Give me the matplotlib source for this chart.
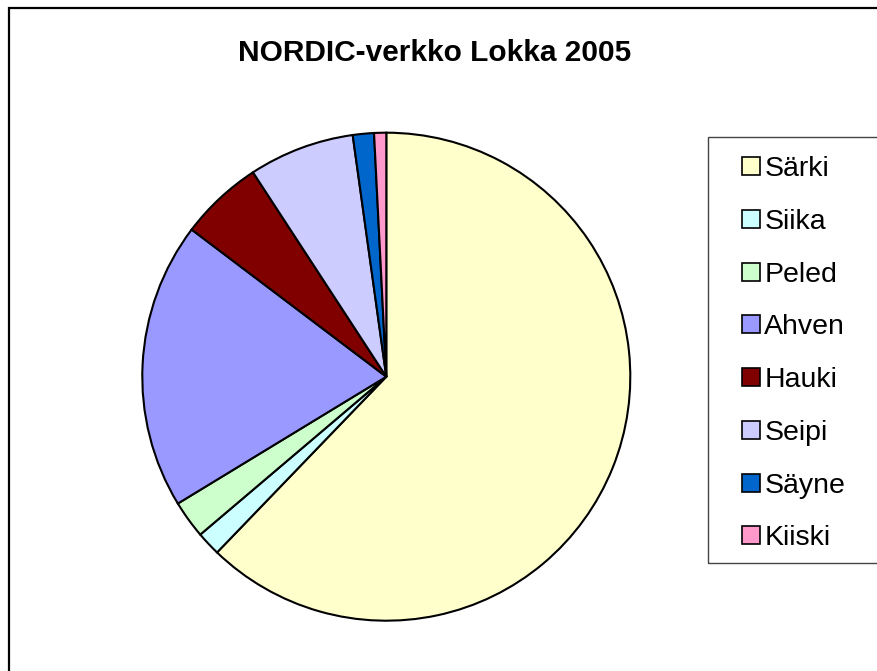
import matplotlib.pyplot as plt
from matplotlib.patches import Rectangle
from matplotlib.lines import Line2D

plt.rcParams['font.family'] = ['Liberation Sans', 'DejaVu Sans']

species = ['Särki', 'Siika', 'Peled', 'Ahven', 'Hauki', 'Seipi', 'Säyne', 'Kiiski']
share = [62.2, 1.6, 2.5, 19.0, 5.5, 7.0, 1.4, 0.8]
colors = ['#FFFFCC', '#CCFFFF', '#CCFFCC', '#9999FF', '#800000', '#CCCCFF', '#0066CC', '#FF99CC']

W, H = 877, 671
fig = plt.figure(figsize=(W / 100, H / 100), dpi=100)
ax = fig.add_axes([0, 0, 1, 1])

ax.pie(share, colors=colors, startangle=90, counterclock=False,
       center=(386.3, H - 376.7), radius=244, frame=True,
       wedgeprops=dict(edgecolor='black', linewidth=1.5))
ax.set_xlim(0, W)
ax.set_ylim(0, H)
ax.set_aspect('equal')
ax.axis('off')

# outer chart border (runs off the right/bottom edges)
ax.add_patch(Rectangle((9, -20), W + 40, H - 7.5 + 20, fill=False,
                       edgecolor='black', linewidth=1.6))

ax.text(434.5, H - 53, 'NORDIC-verkko Lokka 2005', ha='center', va='center',
        fontsize=21.5, fontweight='bold')

# legend box
ax.add_patch(Rectangle((708, H - 563), 200, 563 - 137, fill=False,
                       edgecolor='#444444', linewidth=1.0))
handles = [Line2D([], [], marker='s', linestyle='none', markersize=13,
                  markerfacecolor=c, markeredgecolor='black', markeredgewidth=1.2)
           for c in colors]
leg = ax.legend(handles, species, loc='upper left',
                bbox_to_anchor=(741 / W, 1 - 156 / H), frameon=False,
                fontsize=20.5, handlelength=0.7, handletextpad=0.12,
                labelspacing=0.94, borderpad=0, borderaxespad=0)

fig.savefig('out.png', dpi=100)
